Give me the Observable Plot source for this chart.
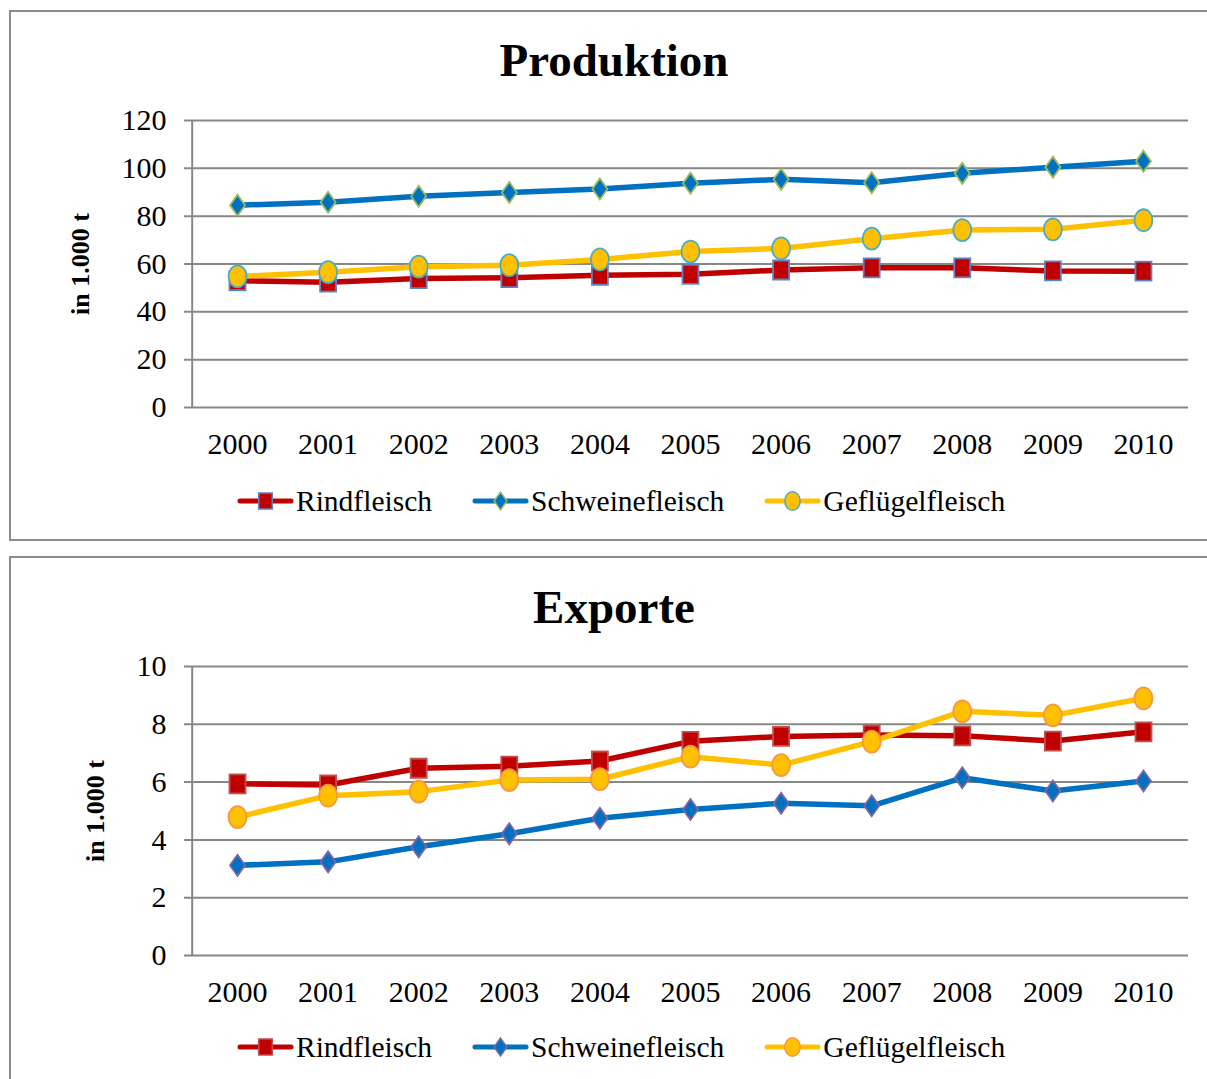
<!DOCTYPE html>
<html>
<head>
<meta charset="utf-8">
<script src="https://cdn.jsdelivr.net/npm/d3@7"></script>
<script src="https://cdn.jsdelivr.net/npm/@observablehq/plot@0.6"></script>
<style>
html,body{margin:0;padding:0;background:#fff;overflow:hidden;width:1207px;height:1079px;}
body{position:relative;font-family:"Liberation Serif","Times New Roman",serif;color:#000;}
.panel{position:absolute;left:9px;width:1260px;border:2px solid #8c8c8c;box-sizing:border-box;background:#fff;}
.title{position:absolute;left:0;width:1228px;text-align:center;font-weight:bold;font-size:47px;line-height:normal;white-space:nowrap;}
.chart{position:absolute;left:0;}
.legend{position:absolute;left:237px;height:36px;display:flex;align-items:center;font-size:29.5px;line-height:36px;white-space:nowrap;}
.legend .item{display:flex;align-items:center;}
.legend svg{display:block;}
.legend span{margin-left:2px;}
</style>
</head>
<body>
<div class="panel" style="top:10px;height:531px;"></div>
<div class="panel" style="top:556px;height:600px;"></div>
<div id="root"></div>
<script>
// ---- data ----
const years = [2000, 2001, 2002, 2003, 2004, 2005, 2006, 2007, 2008, 2009, 2010];
const seriesNames = ["Rindfleisch", "Schweinefleisch", "Geflügelfleisch"];

const prodRind      = [53.0, 52.4, 53.9, 54.3, 55.3, 55.7, 57.5, 58.4, 58.4, 57.1, 57.0];
const prodSchwein   = [84.6, 85.8, 88.3, 89.9, 91.4, 93.8, 95.4, 94.0, 97.9, 100.5, 103.0];
const prodGefluegel = [54.8, 56.6, 58.9, 59.5, 61.9, 65.2, 66.5, 70.6, 74.2, 74.5, 78.3];

const expRind      = [5.94, 5.90, 6.48, 6.55, 6.73, 7.41, 7.58, 7.63, 7.60, 7.42, 7.74];
const expSchwein   = [3.12, 3.24, 3.76, 4.21, 4.75, 5.05, 5.27, 5.18, 6.15, 5.69, 6.04];
const expGefluegel = [4.79, 5.53, 5.67, 6.07, 6.10, 6.88, 6.59, 7.40, 8.45, 8.31, 8.90];

const prodTicks = [0, 20, 40, 60, 80, 100, 120];
const expTicks  = [0, 2, 4, 6, 8, 10];
const yLabel = "in 1.000 t";
const titles = ["Produktion", "Exporte"];

// ---- styles ----
const lineColors = ["#C00000", "#0070C0", "#FFC000"];
const strokesTop = ["#5B86C5", "#9BBB59", "#4BACC6"];
const strokesBottom = ["#C0504D", "#8064A2", "#F79646"];

const symSquare = {draw(ctx) { ctx.rect(-8, -9.5, 16, 19); }};
const symDiamond = {draw(ctx) { ctx.moveTo(0, -10.5); ctx.lineTo(7.5, 0); ctx.lineTo(0, 10.5); ctx.lineTo(-7.5, 0); ctx.closePath(); }};
const symEllipse = {draw(ctx) {
  const rx = 9, ry = 11, k = 0.5523;
  ctx.moveTo(rx, 0);
  ctx.bezierCurveTo(rx, ry * k, rx * k, ry, 0, ry);
  ctx.bezierCurveTo(-rx * k, ry, -rx, ry * k, -rx, 0);
  ctx.bezierCurveTo(-rx, -ry * k, -rx * k, -ry, 0, -ry);
  ctx.bezierCurveTo(rx * k, -ry, rx, -ry * k, rx, 0);
  ctx.closePath();
}};
const symbols = [symSquare, symDiamond, symEllipse];

function records(arrays) {
  return arrays.map((arr, s) => years.map((yr, i) => ({series: seriesNames[s], s, year: yr, value: arr[i]})));
}

function makeChart({top, height, marginBottom, ticks, arrays, strokes, labelDx}) {
  const recs = records(arrays);
  const yMax = ticks[ticks.length - 1];
  const marks = [
    Plot.ruleY(ticks, {stroke: "#878787", strokeWidth: 2}),
    Plot.ruleX([1999.5], {y1: 0, y2: yMax, stroke: "#878787", strokeWidth: 2}),
    Plot.axisY(ticks, {tickSize: 0, tickPadding: 18, fontSize: 30, tickFormat: d => String(d), label: null}),
    Plot.axisX(years, {tickSize: 0, tickPadding: 25, fontSize: 30, tickFormat: d => String(d), label: null}),
    Plot.text([yLabel], {frameAnchor: "left", dx: labelDx, rotate: -90, fontSize: 26, fontWeight: "bold", textAnchor: "middle", lineAnchor: "middle"})
  ];
  recs.forEach((r, s) => marks.push(Plot.line(r, {x: "year", y: "value", stroke: lineColors[s], strokeWidth: 5.5, strokeLinejoin: "round", strokeLinecap: "round"})));
  recs.forEach((r, s) => marks.push(Plot.dot(r, {x: "year", y: "value", symbol: symbols[s], r: 8, fill: lineColors[s], stroke: strokes[s], strokeWidth: 1.8})));
  const svg = Plot.plot({
    width: 1207, height,
    marginLeft: 184, marginRight: 19, marginTop: 120, marginBottom,
    x: {type: "linear", domain: [1999.415, 2010.497], axis: null},
    y: {domain: [0, yMax], axis: null},
    style: {fontFamily: '"Liberation Serif", "Times New Roman", serif', color: "#000", background: "transparent", overflow: "visible"},
    marks
  });
  svg.classList.add("chart");
  svg.style.position = "absolute";
  svg.style.top = top + "px";
  svg.style.left = "0px";
  return svg;
}

function makeLegend(top, strokes) {
  const div = document.createElement("div");
  div.className = "legend";
  div.style.top = top + "px";
  const gaps = [40, 40, 0];
  seriesNames.forEach((name, s) => {
    const item = document.createElement("div");
    item.className = "item";
    item.style.marginRight = gaps[s] + "px";
    const svg = d3.create("svg").attr("width", 57).attr("height", 30);
    svg.append("line").attr("x1", 3).attr("x2", 54).attr("y1", 15).attr("y2", 15)
      .attr("stroke", lineColors[s]).attr("stroke-width", 5).attr("stroke-linecap", "round");
    const p = d3.path(); symbols[s].draw(p);
    svg.append("path").attr("d", p.toString()).attr("transform", "translate(28.5,15) scale(0.85)")
      .attr("fill", lineColors[s]).attr("stroke", strokes[s]).attr("stroke-width", 1.8);
    item.appendChild(svg.node());
    const span = document.createElement("span");
    span.textContent = name;
    item.appendChild(span);
    div.appendChild(item);
  });
  return div;
}

function makeTitle(text, top) {
  const d = document.createElement("div");
  d.className = "title";
  d.style.top = top + "px";
  d.textContent = text;
  return d;
}

const root = document.getElementById("root");
root.appendChild(makeTitle(titles[0], 33));
root.appendChild(makeChart({top: 0, height: 470, marginBottom: 63, ticks: prodTicks, arrays: [prodRind, prodSchwein, prodGefluegel], strokes: strokesTop, labelDx: -104}));
root.appendChild(makeLegend(483, strokesTop));

root.appendChild(makeTitle(titles[1], 580));
root.appendChild(makeChart({top: 546, height: 471, marginBottom: 62, ticks: expTicks, arrays: [expRind, expSchwein, expGefluegel], strokes: strokesBottom, labelDx: -89}));
root.appendChild(makeLegend(1029, strokesBottom));
</script>
</body>
</html>
